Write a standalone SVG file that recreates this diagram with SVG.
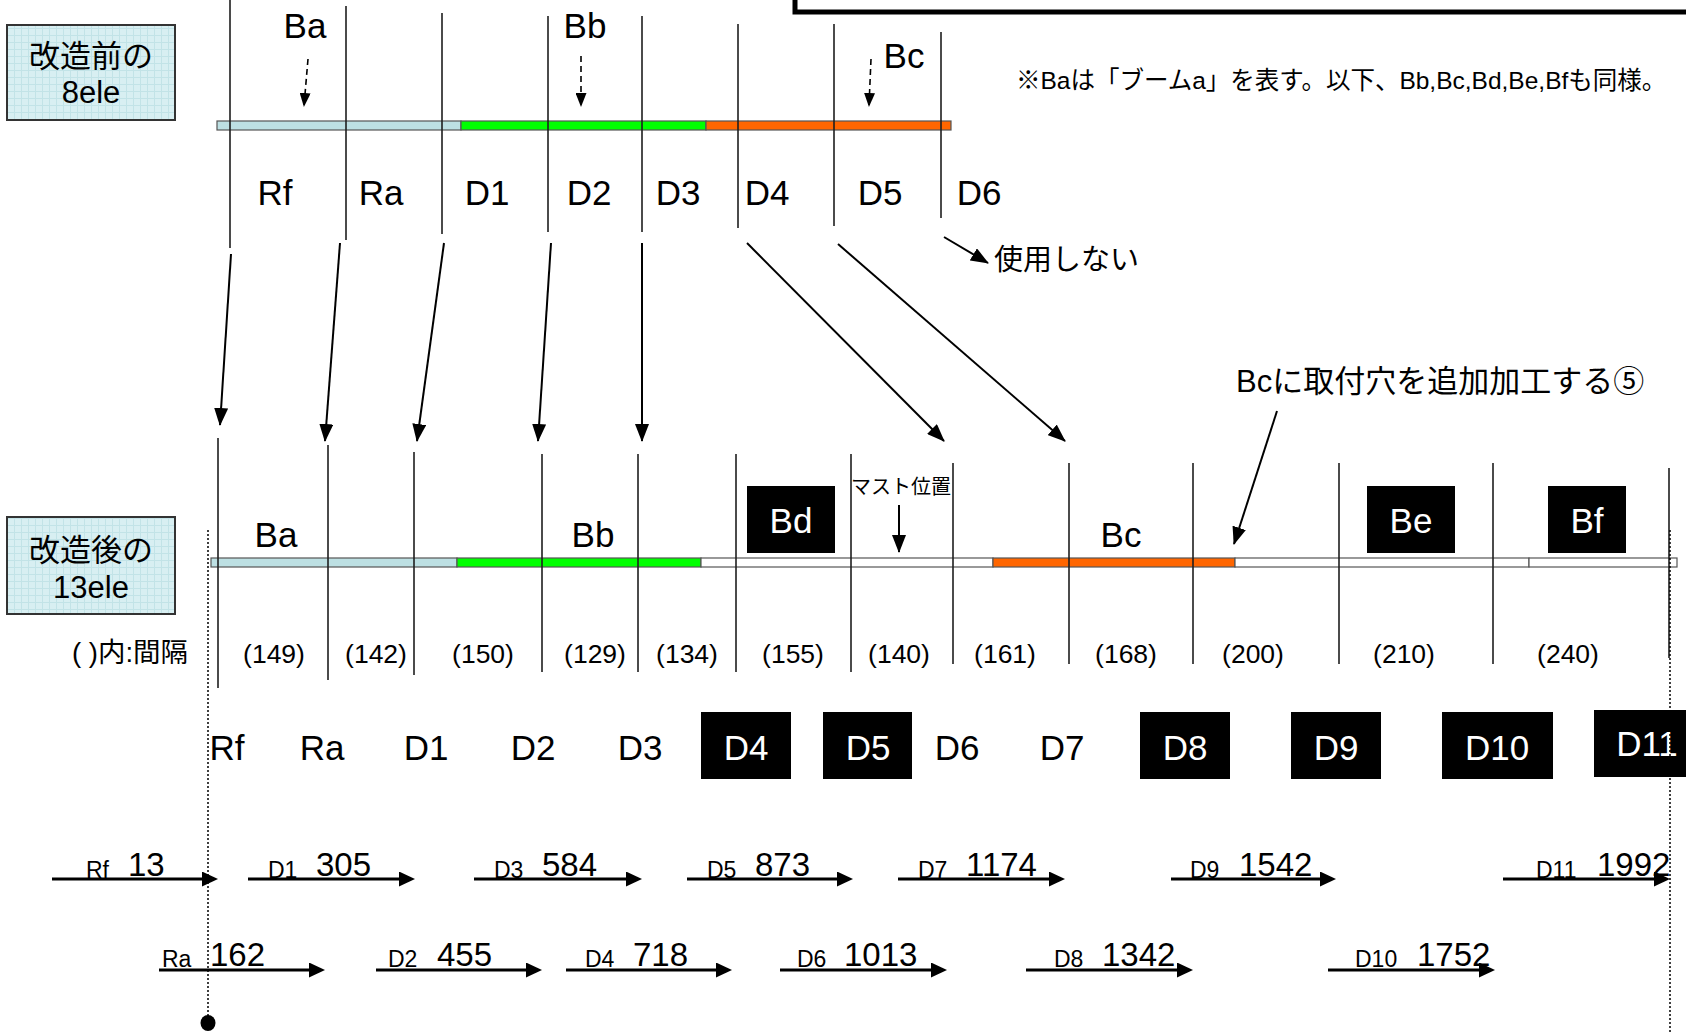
<svg xmlns="http://www.w3.org/2000/svg" width="1686" height="1032" viewBox="0 0 1686 1032">
<style>
.t{font-family:"Liberation Sans","Noto Sans CJK JP",sans-serif;fill:#000}
.big{font-size:35px}
.wt{fill:#fff}
.iv{font-size:26.5px}
.sm{font-size:23px}
.num{font-size:33px}
.v{stroke:#1e1e1e;stroke-width:1.6}
.arr{stroke:#000;stroke-width:2;fill:none;marker-end:url(#ah)}
.harr{stroke:#000;stroke-width:3;fill:none;marker-end:url(#hh)}
.dash{stroke:#000;stroke-width:1.6;stroke-dasharray:6 4;fill:none;marker-end:url(#sh)}
.dot{stroke:#000;stroke-width:1.5;stroke-dasharray:2 2;fill:none}
.seg{stroke:#555;stroke-width:1.2}
.blk{fill:#000}
.lbox{fill:url(#grid);stroke:#333;stroke-width:2}
</style>
<defs>
<pattern id="grid" width="7" height="7" patternUnits="userSpaceOnUse">
<rect width="7" height="7" fill="#d8eff2"/>
<path d="M0,0.5H7M0.5,0V7" stroke="#c2e3e7" stroke-width="1"/>
</pattern>
<marker id="ah" markerUnits="userSpaceOnUse" markerWidth="18" markerHeight="14" refX="17" refY="7" orient="auto"><path d="M0,0 L18,7 L0,14 z" fill="#000"/></marker>
<marker id="hh" markerUnits="userSpaceOnUse" markerWidth="16" markerHeight="15" refX="6" refY="7.5" orient="auto"><path d="M0,0 L16,7.5 L0,15 z" fill="#000"/></marker>
<marker id="sh" markerUnits="userSpaceOnUse" markerWidth="14" markerHeight="11" refX="13" refY="5.5" orient="auto"><path d="M0,0 L14,5.5 L0,11 z" fill="#000"/></marker>
</defs>
<rect width="1686" height="1032" fill="#fff"/>

<g id="frame-top">
<rect x="795" y="-30" width="1000" height="42" fill="none" stroke="#000" stroke-width="5"/>
</g>

<g id="note">
<text class="t" x="1016" y="89" font-size="24.5">※Baは「ブームa」を表す。以下、Bb,Bc,Bd,Be,Bfも同様。</text>
</g>

<g id="box-before">
<rect class="lbox" x="7" y="25" width="168" height="95"/>
<text class="t" x="91" y="67" font-size="31" text-anchor="middle">改造前の</text>
<text class="t" x="91" y="103" font-size="31" text-anchor="middle">8ele</text>
</g>

<g id="boom-before">
<rect class="seg" x="217" y="121" width="244" height="9" fill="#bde0e3"/>
<rect class="seg" x="461" y="121" width="245" height="9" fill="#00ff00"/>
<rect class="seg" x="706" y="121" width="245" height="9" fill="#ff6600"/>
</g>

<g id="elements-before">
<line class="v" x1="230" y1="0" x2="230" y2="248"/>
<line class="v" x1="346" y1="6" x2="346" y2="240"/>
<line class="v" x1="442" y1="13" x2="442" y2="234"/>
<line class="v" x1="548" y1="16" x2="548" y2="232"/>
<line class="v" x1="642" y1="16" x2="642" y2="232"/>
<line class="v" x1="738" y1="24" x2="738" y2="228"/>
<line class="v" x1="834" y1="24" x2="834" y2="226"/>
<line class="v" x1="941" y1="32" x2="941" y2="218"/>
<text class="t big" x="275" y="205" text-anchor="middle">Rf</text>
<text class="t big" x="381" y="205" text-anchor="middle">Ra</text>
<text class="t big" x="487" y="205" text-anchor="middle">D1</text>
<text class="t big" x="589" y="205" text-anchor="middle">D2</text>
<text class="t big" x="678" y="205" text-anchor="middle">D3</text>
<text class="t big" x="767" y="205" text-anchor="middle">D4</text>
<text class="t big" x="880" y="205" text-anchor="middle">D5</text>
<text class="t big" x="979" y="205" text-anchor="middle">D6</text>
</g>

<g id="boom-labels-before">
<text class="t big" x="305" y="38" text-anchor="middle">Ba</text>
<text class="t big" x="585" y="38" text-anchor="middle">Bb</text>
<text class="t big" x="904" y="68" text-anchor="middle">Bc</text>
</g>

<g id="unused">
<text class="t" x="994" y="270" font-size="29">使用しない</text>
</g>

<g id="annotation-bc">
<text class="t" x="1236" y="392" font-size="31">Bcに取付穴を追加加工する⑤</text>
</g>

<g id="box-after">
<rect class="lbox" x="7" y="517" width="168" height="97"/>
<text class="t" x="91" y="561" font-size="31" text-anchor="middle">改造後の</text>
<text class="t" x="91" y="598" font-size="31" text-anchor="middle">13ele</text>
</g>

<g id="boom-after">
<rect class="seg" x="211" y="558" width="246" height="9" fill="#bde0e3"/>
<rect class="seg" x="457" y="558" width="244" height="9" fill="#00ff00"/>
<rect class="seg" x="701" y="558" width="292" height="9" fill="#fff"/>
<rect class="seg" x="993" y="558" width="242" height="9" fill="#ff6600"/>
<rect class="seg" x="1235" y="558" width="294" height="9" fill="#fff"/>
<rect class="seg" x="1529" y="558" width="148" height="9" fill="#fff"/>
</g>

<g id="elements-after">
<line class="v" x1="218" y1="438" x2="218" y2="688"/>
<line class="v" x1="328" y1="445" x2="328" y2="680"/>
<line class="v" x1="414" y1="452" x2="414" y2="675"/>
<line class="v" x1="542" y1="454" x2="542" y2="672"/>
<line class="v" x1="638" y1="454" x2="638" y2="672"/>
<line class="v" x1="736" y1="454" x2="736" y2="672"/>
<line class="v" x1="851" y1="454" x2="851" y2="672"/>
<line class="v" x1="953" y1="463" x2="953" y2="664"/>
<line class="v" x1="1069" y1="463" x2="1069" y2="664"/>
<line class="v" x1="1193" y1="463" x2="1193" y2="664"/>
<line class="v" x1="1339" y1="463" x2="1339" y2="664"/>
<line class="v" x1="1493" y1="463" x2="1493" y2="664"/>
<line class="v" x1="1669" y1="468" x2="1669" y2="658"/>
</g>

<g id="boom-labels-after">
<text class="t big" x="276" y="547" text-anchor="middle">Ba</text>
<text class="t big" x="593" y="547" text-anchor="middle">Bb</text>
<text class="t big" x="1121" y="547" text-anchor="middle">Bc</text>
<g id="bd"><rect class="blk" x="747" y="486" width="88" height="67"/><text class="t big wt" x="791" y="533" text-anchor="middle">Bd</text></g>
<g id="be"><rect class="blk" x="1367" y="486" width="88" height="67"/><text class="t big wt" x="1411" y="533" text-anchor="middle">Be</text></g>
<g id="bf"><rect class="blk" x="1548" y="486" width="78" height="67"/><text class="t big wt" x="1587" y="533" text-anchor="middle">Bf</text></g>
</g>

<g id="mast">
<text class="t" x="901" y="494" font-size="20" text-anchor="middle">マスト位置</text>
</g>

<g id="intervals">
<text class="t" x="72" y="662" font-size="27.5">( )内:間隔</text>
<text class="t iv" x="274" y="663" text-anchor="middle">(149)</text>
<text class="t iv" x="376" y="663" text-anchor="middle">(142)</text>
<text class="t iv" x="483" y="663" text-anchor="middle">(150)</text>
<text class="t iv" x="595" y="663" text-anchor="middle">(129)</text>
<text class="t iv" x="687" y="663" text-anchor="middle">(134)</text>
<text class="t iv" x="793" y="663" text-anchor="middle">(155)</text>
<text class="t iv" x="899" y="663" text-anchor="middle">(140)</text>
<text class="t iv" x="1005" y="663" text-anchor="middle">(161)</text>
<text class="t iv" x="1126" y="663" text-anchor="middle">(168)</text>
<text class="t iv" x="1253" y="663" text-anchor="middle">(200)</text>
<text class="t iv" x="1404" y="663" text-anchor="middle">(210)</text>
<text class="t iv" x="1568" y="663" text-anchor="middle">(240)</text>
</g>

<g id="element-names-after">
<text class="t big" x="227" y="760" text-anchor="middle">Rf</text>
<text class="t big" x="322" y="760" text-anchor="middle">Ra</text>
<text class="t big" x="426" y="760" text-anchor="middle">D1</text>
<text class="t big" x="533" y="760" text-anchor="middle">D2</text>
<text class="t big" x="640" y="760" text-anchor="middle">D3</text>
<g id="d4"><rect class="blk" x="701" y="712" width="90" height="67"/><text class="t big wt" x="746" y="760" text-anchor="middle">D4</text></g>
<g id="d5"><rect class="blk" x="823" y="712" width="89" height="67"/><text class="t big wt" x="868" y="760" text-anchor="middle">D5</text></g>
<text class="t big" x="957" y="760" text-anchor="middle">D6</text>
<text class="t big" x="1062" y="760" text-anchor="middle">D7</text>
<g id="d8"><rect class="blk" x="1140" y="712" width="90" height="67"/><text class="t big wt" x="1185" y="760" text-anchor="middle">D8</text></g>
<g id="d9"><rect class="blk" x="1291" y="712" width="90" height="67"/><text class="t big wt" x="1336" y="760" text-anchor="middle">D9</text></g>
<g id="d10"><rect class="blk" x="1442" y="712" width="111" height="67"/><text class="t big wt" x="1497" y="760" text-anchor="middle">D10</text></g>
<g id="d11"><rect class="blk" x="1594" y="710" width="100" height="67"/><text class="t big wt" x="1647" y="756" text-anchor="middle">D11</text></g>
</g>

<g id="positions">
<text class="t sm" x="86" y="878">Rf</text><text class="t num" x="128" y="876">13</text>
<text class="t sm" x="268" y="878">D1</text><text class="t num" x="316" y="876">305</text>
<text class="t sm" x="494" y="878">D3</text><text class="t num" x="542" y="876">584</text>
<text class="t sm" x="707" y="878">D5</text><text class="t num" x="755" y="876">873</text>
<text class="t sm" x="918" y="878">D7</text><text class="t num" x="966" y="876">1174</text>
<text class="t sm" x="1190" y="878">D9</text><text class="t num" x="1239" y="876">1542</text>
<text class="t sm" x="1536" y="878">D11</text><text class="t num" x="1597" y="876">1992</text>
<text class="t sm" x="162" y="967">Ra</text><text class="t num" x="210" y="966">162</text>
<text class="t sm" x="388" y="967">D2</text><text class="t num" x="437" y="966">455</text>
<text class="t sm" x="585" y="967">D4</text><text class="t num" x="633" y="966">718</text>
<text class="t sm" x="797" y="967">D6</text><text class="t num" x="844" y="966">1013</text>
<text class="t sm" x="1054" y="967">D8</text><text class="t num" x="1102" y="966">1342</text>
<text class="t sm" x="1355" y="967">D10</text><text class="t num" x="1417" y="966">1752</text>
</g>

<g id="connectors">
<line class="dash" x1="308" y1="59" x2="304" y2="106"/>
<line class="dash" x1="581" y1="56" x2="581" y2="106"/>
<line class="dash" x1="871" y1="59" x2="869" y2="106"/>
<line class="arr" x1="231" y1="254" x2="220" y2="425"/>
<line class="arr" x1="340" y1="243" x2="325" y2="441"/>
<line class="arr" x1="444" y1="243" x2="417" y2="441"/>
<line class="arr" x1="551" y1="243" x2="538" y2="441"/>
<line class="arr" x1="642" y1="243" x2="642" y2="441"/>
<line class="arr" x1="747" y1="243" x2="944" y2="441"/>
<line class="arr" x1="838" y1="244" x2="1065" y2="441"/>
<line class="arr" x1="944" y1="237" x2="988" y2="263"/>
<line class="arr" x1="1277" y1="411" x2="1234" y2="544"/>
<line class="arr" x1="899" y1="505" x2="899" y2="552"/>
<line class="harr" x1="52" y1="879" x2="208" y2="879"/>
<line class="harr" x1="248" y1="879" x2="405" y2="879"/>
<line class="harr" x1="474" y1="879" x2="632" y2="879"/>
<line class="harr" x1="687" y1="879" x2="843" y2="879"/>
<line class="harr" x1="898" y1="879" x2="1055" y2="879"/>
<line class="harr" x1="1171" y1="879" x2="1326" y2="879"/>
<line class="harr" x1="1503" y1="879" x2="1660" y2="879"/>
<line class="harr" x1="159" y1="970" x2="315" y2="970"/>
<line class="harr" x1="376" y1="970" x2="532" y2="970"/>
<line class="harr" x1="566" y1="970" x2="722" y2="970"/>
<line class="harr" x1="780" y1="970" x2="937" y2="970"/>
<line class="harr" x1="1026" y1="970" x2="1183" y2="970"/>
<line class="harr" x1="1328" y1="970" x2="1485" y2="970"/>
<line class="dot" x1="208" y1="530" x2="208" y2="1016"/>
<line class="dot" x1="1670" y1="530" x2="1670" y2="1032"/>
<ellipse cx="208" cy="1023" rx="7.5" ry="8" fill="#000"/>
</g>
</svg>
